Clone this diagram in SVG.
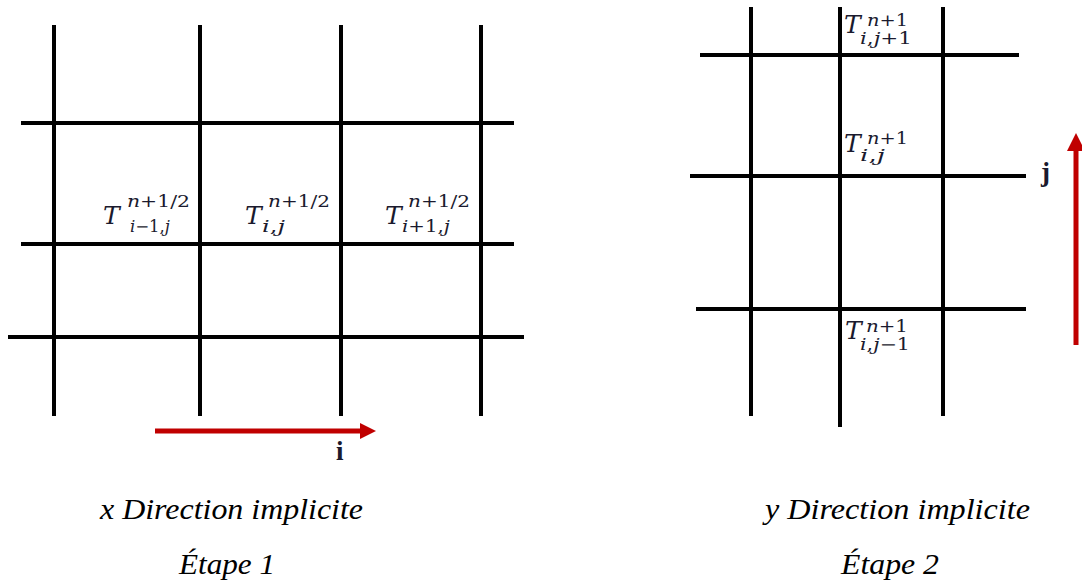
<svg xmlns="http://www.w3.org/2000/svg" width="1082" height="586" viewBox="0 0 1082 586">
<style>
.g line{stroke:#000;stroke-width:4;stroke-linecap:butt}
.T{font-family:"DejaVu Serif",serif;font-style:italic;font-size:25px;fill:#1a1a2e}
.s{font-family:"DejaVu Serif",serif;font-size:16px;fill:#1a1a2e}
.it{font-style:italic}
.cap{font-family:"Liberation Serif",serif;font-style:italic;font-size:29px;fill:#000}
.ax{font-family:"Liberation Serif",serif;font-size:27px;font-weight:bold;fill:#1a1a2e}
.arr{stroke:#c00000;stroke-width:5;fill:none}
.head{fill:#c00000}
</style>
<rect width="1082" height="586" fill="#fff"/>
<g id="grid-left" class="g">
<line x1="54" y1="25" x2="54" y2="416"/>
<line x1="200" y1="25" x2="200" y2="416"/>
<line x1="341" y1="25" x2="341" y2="416"/>
<line x1="481" y1="25" x2="481" y2="416"/>
<line x1="21" y1="123" x2="514" y2="123"/>
<line x1="21" y1="244" x2="514" y2="244"/>
<line x1="8" y1="337" x2="524" y2="337"/>
</g>
<g id="grid-right" class="g">
<line x1="751" y1="7" x2="751" y2="416"/>
<line x1="840" y1="7" x2="840" y2="427"/>
<line x1="943" y1="7" x2="943" y2="416"/>
<line x1="700" y1="55" x2="1019" y2="55"/>
<line x1="690" y1="176" x2="1026" y2="176"/>
<line x1="696" y1="309" x2="1026" y2="309"/>
</g>
<g id="connectors">
<line class="arr" x1="155" y1="431" x2="362" y2="431"/>
<polygon class="head" points="360,423 376,431 360,439"/>
<line class="arr" x1="1076" y1="345" x2="1076" y2="148"/>
<polygon class="head" points="1067,151 1076,133 1085,151"/>
</g>
<g id="label-im1">
<text class="T" x="103" y="224">T</text>
<text class="s" x="127" y="207" textLength="63" lengthAdjust="spacingAndGlyphs"><tspan class="it">n</tspan>+1/2</text>
<text class="s" x="130" y="232" textLength="40" lengthAdjust="spacingAndGlyphs"><tspan class="it">i</tspan>−1,<tspan class="it">j</tspan></text>
</g>
<g id="label-i">
<text class="T" x="245" y="224">T</text>
<text class="s" x="268" y="207" textLength="62" lengthAdjust="spacingAndGlyphs"><tspan class="it">n</tspan>+1/2</text>
<text class="s" x="262" y="232" textLength="23" lengthAdjust="spacingAndGlyphs"><tspan class="it">i</tspan>,<tspan class="it">j</tspan></text>
</g>
<g id="label-ip1">
<text class="T" x="385" y="224">T</text>
<text class="s" x="408" y="207" textLength="62" lengthAdjust="spacingAndGlyphs"><tspan class="it">n</tspan>+1/2</text>
<text class="s" x="402" y="232" textLength="48" lengthAdjust="spacingAndGlyphs"><tspan class="it">i</tspan>+1,<tspan class="it">j</tspan></text>
</g>
<g id="label-jp1">
<text class="T" x="844" y="33">T</text>
<text class="s" x="867" y="26" textLength="41" lengthAdjust="spacingAndGlyphs"><tspan class="it">n</tspan>+1</text>
<text class="s" x="860" y="44" textLength="52" lengthAdjust="spacingAndGlyphs"><tspan class="it">i</tspan>,<tspan class="it">j</tspan>+1</text>
</g>
<g id="label-j">
<text class="T" x="844" y="152">T</text>
<text class="s" x="867" y="144" textLength="41" lengthAdjust="spacingAndGlyphs"><tspan class="it">n</tspan>+1</text>
<text class="s" x="860" y="161" textLength="25" lengthAdjust="spacingAndGlyphs"><tspan class="it">i</tspan>,<tspan class="it">j</tspan></text>
</g>
<g id="label-jm1">
<text class="T" x="845" y="339">T</text>
<text class="s" x="866" y="332" textLength="42" lengthAdjust="spacingAndGlyphs"><tspan class="it">n</tspan>+1</text>
<text class="s" x="860" y="350" textLength="50" lengthAdjust="spacingAndGlyphs"><tspan class="it">i</tspan>,<tspan class="it">j</tspan>−1</text>
</g>
<g id="axis-labels">
<text class="ax" x="336" y="460">i</text>
<text class="ax" x="1041" y="181">j</text>
</g>
<g id="captions">
<text class="cap" x="100" y="519" textLength="263" lengthAdjust="spacingAndGlyphs">x Direction implicite</text>
<text class="cap" x="179" y="574" textLength="96" lengthAdjust="spacingAndGlyphs">Étape 1</text>
<text class="cap" x="765" y="519" textLength="265" lengthAdjust="spacingAndGlyphs">y Direction implicite</text>
<text class="cap" x="841" y="574" textLength="98" lengthAdjust="spacingAndGlyphs">Étape 2</text>
</g>
</svg>
